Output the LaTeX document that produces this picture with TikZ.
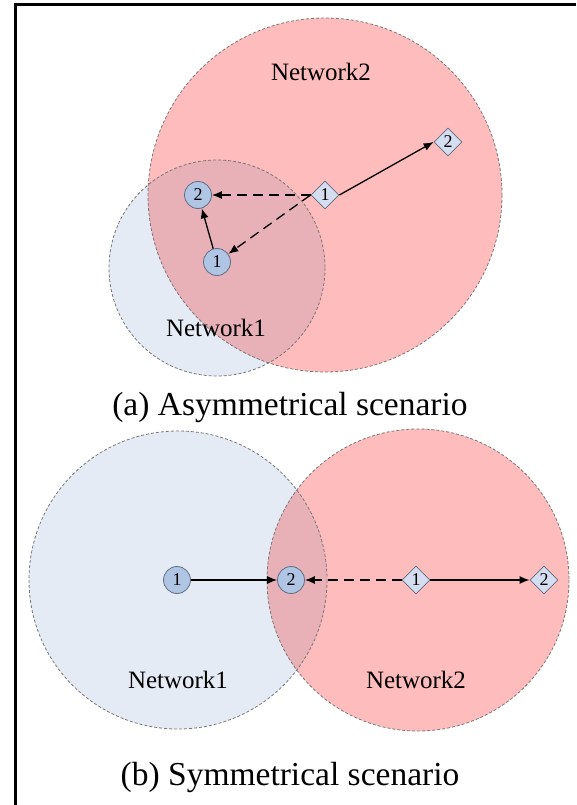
\documentclass[tikz,border=0pt]{standalone}
\usepackage{fontspec}
\setmainfont{Liberation Serif}
\usetikzlibrary{shapes.geometric,arrows.meta}

\definecolor{redzone}{RGB}{255,188,188}
\definecolor{bluezone}{RGB}{229,235,245}
\definecolor{bothzone}{RGB}{232,176,183}
\definecolor{rimgray}{RGB}{120,120,120}
\definecolor{nodeblue}{RGB}{176,196,227}
\definecolor{nodepale}{RGB}{212,222,240}
\definecolor{nodeedge}{RGB}{95,110,130}

\tikzset{
  zonerim/.style={draw=rimgray, line width=0.8pt, dash pattern=on 3pt off 2pt},
  hostnode/.style={circle, draw=nodeedge, fill=nodeblue, line width=0.8pt,
    minimum size=27pt, inner sep=0pt, font=\fontsize{18}{18}\selectfont},
  relaynode/.style={diamond, draw=nodeedge, fill=nodepale, line width=0.8pt,
    minimum width=28pt, minimum height=28pt, inner sep=0pt, shape aspect=1,
    font=\fontsize{18}{18}\selectfont},
  link/.style={line width=1.3pt, -{Latex[length=10pt,width=8pt]}},
  weaklink/.style={link, dash pattern=on 10pt off 6pt},
  netlabel/.style={font=\fontsize{25}{25}\selectfont},
  caption/.style={font=\fontsize{33.5}{33.5}\selectfont}
}

\begin{document}
\begin{tikzpicture}[x=1pt, y=-1pt]
\useasboundingbox (0,0) rectangle (576,805);

% frame corner
\draw[line width=3pt] (576,4.5) -- (15.5,4.5) -- (15.5,805);

% ---------- (a) asymmetrical ----------
\coordinate (A1c) at (217,268);
\coordinate (A2c) at (325,195);
\fill[bluezone] (A1c) circle (108);
\fill[redzone] (A2c) circle (177);
\begin{scope}
  \clip (A1c) circle (108);
  \fill[bothzone] (A2c) circle (177);
\end{scope}
\draw[zonerim] (A1c) circle (108);
\draw[zonerim] (A2c) circle (177);

\node[netlabel] (na2) at (321,72) {Network2};
\node[netlabel] (na1) at (216,328) {Network1};

\node[hostnode] (ab2) at (198,195) {2};
\node[hostnode] (ab1) at (217,262) {1};
\node[relaynode] (ad1) at (325,195) {1};
\node[relaynode] (ad2) at (448,142) {2};

\draw[link] (ab1) -- (ab2);
\draw[link] (ad1.east) -- (ad2.west);
\draw[weaklink] (ad1.west) -- (ab2);
\draw[weaklink] (ad1.west) -- (ab1);

\node[caption] (capa) at (290,407) {(a) Asymmetrical scenario};

% ---------- (b) symmetrical ----------
\coordinate (B1c) at (178,580);
\coordinate (B2c) at (418,580);
\fill[bluezone] (B1c) circle (149);
\fill[redzone] (B2c) circle (151);
\begin{scope}
  \clip (B1c) circle (149);
  \fill[bothzone] (B2c) circle (151);
\end{scope}
\draw[zonerim] (B1c) circle (149);
\draw[zonerim] (B2c) circle (151);

\node[netlabel] (nb1) at (178,680) {Network1};
\node[netlabel] (nb2) at (416,680) {Network2};

\node[hostnode] (bb1) at (177,580) {1};
\node[hostnode] (bb2) at (291,580) {2};
\node[relaynode] (bd1) at (416,580) {1};
\node[relaynode] (bd2) at (544,580) {2};

\draw[link] (bb1) -- (bb2);
\draw[weaklink] (bd1) -- (bb2);
\draw[link] (bd1) -- (bd2);

\node[caption] (capb) at (290,777) {(b) Symmetrical scenario};
\end{tikzpicture}
\end{document}
